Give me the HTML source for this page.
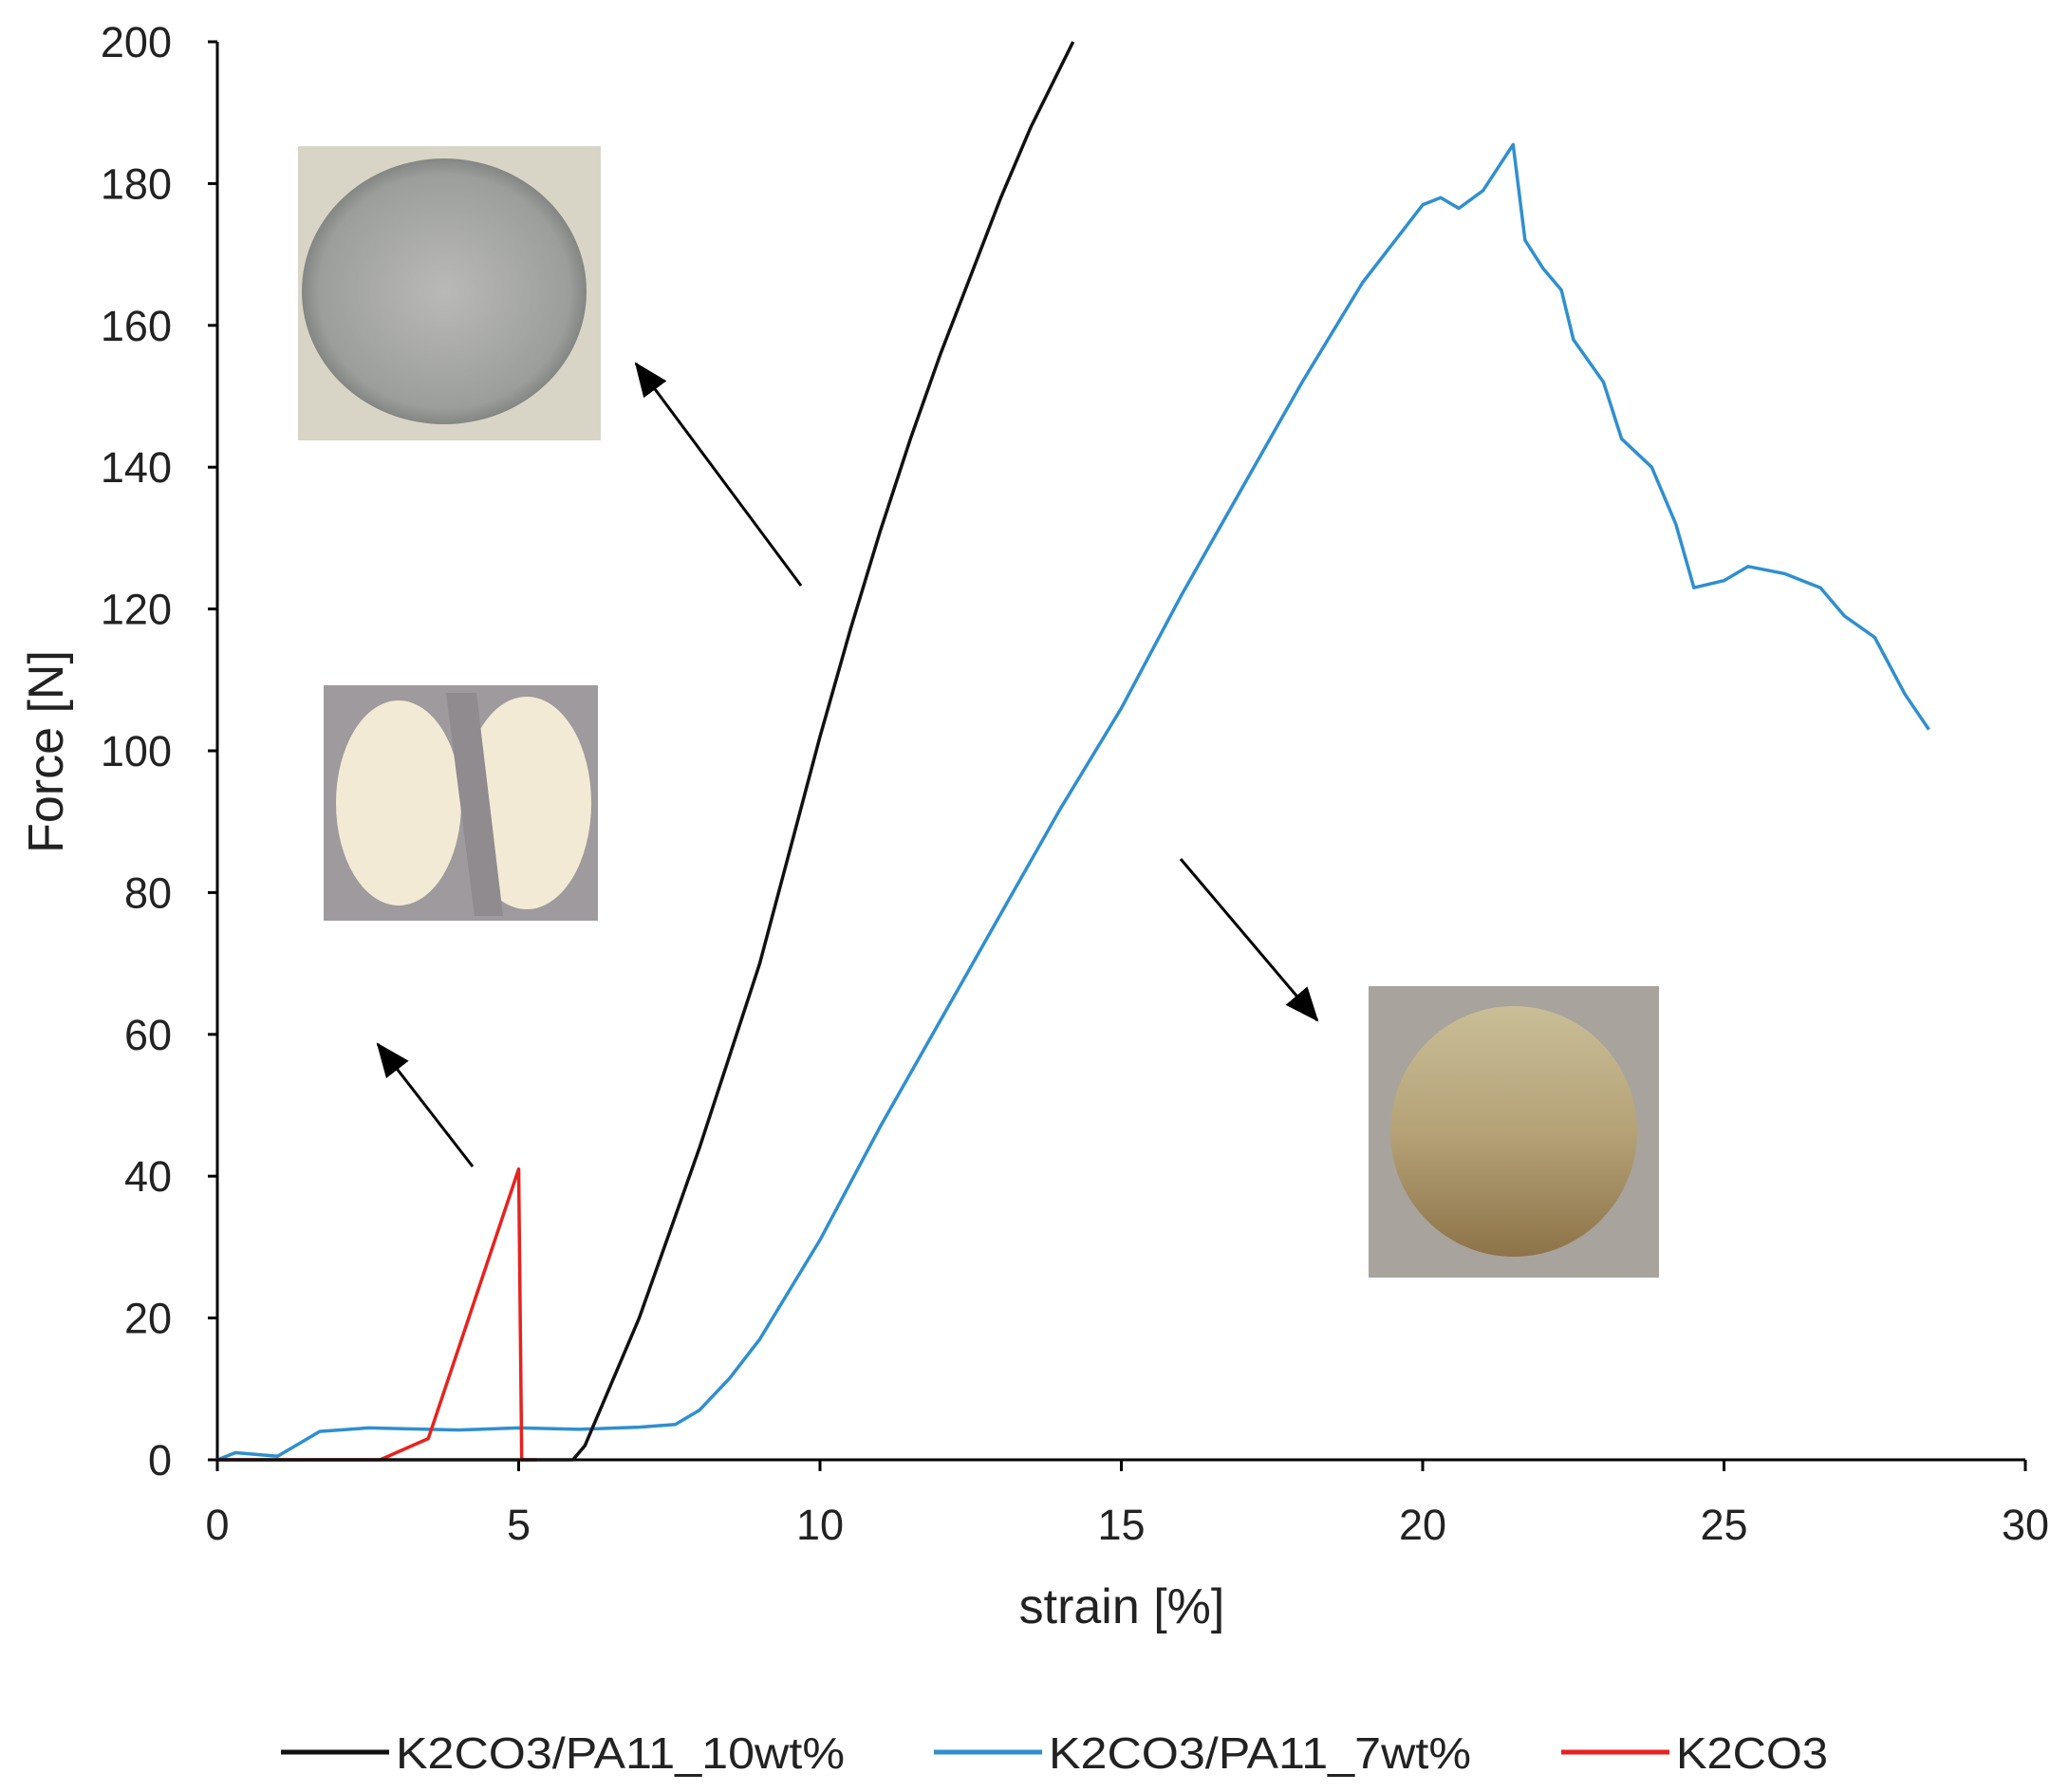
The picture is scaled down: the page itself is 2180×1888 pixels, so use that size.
<!DOCTYPE html>
<html><head><meta charset="utf-8"><style>
html,body{margin:0;padding:0;background:#fff;}
svg{display:block;font-family:"Liberation Sans",sans-serif;}
</style></head><body>
<svg id="chart" width="2180" height="1888" viewBox="0 0 2180 1888" xmlns="http://www.w3.org/2000/svg">
<defs>
<radialGradient id="gSilver" cx="50%" cy="50%" r="55%"><stop offset="0" stop-color="#b9bab8"/><stop offset="0.8" stop-color="#9c9e9c"/><stop offset="1" stop-color="#6f726f"/></radialGradient>
<linearGradient id="gGold" x1="0" y1="0" x2="0" y2="1"><stop offset="0" stop-color="#c9be97"/><stop offset="0.5" stop-color="#b5a277"/><stop offset="1" stop-color="#8d7348"/></linearGradient>
<marker id="ah" markerWidth="36" markerHeight="30" refX="34" refY="15" orient="auto" markerUnits="userSpaceOnUse" viewBox="0 0 36 30"><path d="M0,0 L36,15 L0,30 z" fill="#000"/></marker>
</defs>
<g id="photos">
<g>
<rect x="314" y="154" width="319" height="310" fill="#d9d5c6"/>
<ellipse cx="468" cy="307" rx="150" ry="140" fill="url(#gSilver)"/>
</g>
<g>
<rect x="341" y="722" width="289" height="248" fill="#9e9a9d"/>
<ellipse cx="420" cy="846" rx="66" ry="108" fill="#f3ead6"/>
<ellipse cx="555" cy="846" rx="68" ry="112" fill="#f3ead6"/>
<path d="M470 730 L502 730 L530 965 L500 965 Z" fill="#8f8b8e"/>
</g>
<g>
<rect x="1442" y="1039" width="306" height="307" fill="#a8a39c"/>
<ellipse cx="1595" cy="1192" rx="130" ry="132" fill="url(#gGold)"/>
</g>
</g>
<g id="arrows" stroke="#000" stroke-width="3" fill="none">
<line x1="844" y1="617" x2="670" y2="383" marker-end="url(#ah)"/>
<line x1="498" y1="1229" x2="398" y2="1100" marker-end="url(#ah)"/>
<line x1="1244" y1="905" x2="1388" y2="1075" marker-end="url(#ah)"/>
</g>
<g id="axes"></g>
<g id="series"></g>
<g id="legend"></g>
</svg>
<script>
const xTicks = [0,5,10,15,20,25,30];
const yTicks = [0,20,40,60,80,100,120,140,160,180,200];
const blackX = [0,5.9,6.1,6.4,7,7.5,8,8.5,9,9.5,10,10.5,11,11.5,12,12.5,13,13.5,14.2];
const blackY = [0,0,2,8,20,32,44,57,70,86,102,117,131,144,156,167,178,188,200];
const blueX = [0,0.3,1,1.7,2.5,4,5,6,7,7.6,8,8.5,9,10,11,12,13,14,15,16,17,18,19,20,20.3,20.6,21,21.5,21.7,22,22.3,22.5,23,23.3,23.8,24.2,24.5,25,25.4,26,26.6,27,27.5,28,28.4];
const blueY = [0,1,0.5,4,4.5,4.2,4.5,4.3,4.6,5,7,11.5,17,31,47,62,77,92,106,122,137,152,166,177,178,176.5,179,185.5,172,168,165,158,152,144,140,132,123,124,126,125,123,119,116,108,103];
const redX = [0,2.7,3.5,5,5.05,5.3];
const redY = [0,0,3,41,0,0];
const legendLabels = ["K2CO3/PA11_10wt%","K2CO3/PA11_7wt%","K2CO3"];

const NS="http://www.w3.org/2000/svg";
const X0=229,X1=2134,Y0=1538,Y1=44;
const sx=v=>X0+(v-0)/(30-0)*(X1-X0);
const sy=v=>Y0-(v-0)/(200-0)*(Y0-Y1);
function mk(tag,attrs,parent){const e=document.createElementNS(NS,tag);for(const k in attrs)e.setAttribute(k,attrs[k]);parent.appendChild(e);return e;}
const axes=document.getElementById('axes');
let e;
e=mk('line',{x1:X0,y1:Y1,x2:X0,y2:Y0,stroke:'#000','stroke-width':3},axes);


e=mk('line',{x1:X0,y1:Y0,x2:X1,y2:Y0,stroke:'#000','stroke-width':3},axes);


yTicks.forEach(v=>{
 mk('line',{x1:X0-10,y1:sy(v),x2:X0,y2:sy(v),stroke:'#000','stroke-width':3},axes);
 const t=mk('text',{x:181,y:sy(v)+16,'text-anchor':'end','font-size':45,fill:'#222'},axes);
 t.textContent=v;
 
 
});
xTicks.forEach(v=>{
 mk('line',{x1:sx(v),y1:Y0,x2:sx(v),y2:Y0+12,stroke:'#000','stroke-width':3},axes);
 const t=mk('text',{x:sx(v),y:1622,'text-anchor':'middle','font-size':45,fill:'#222'},axes);
 t.textContent=v;
 
 
});
e=mk('text',{x:1182,y:1710,'text-anchor':'middle','font-size':52,fill:'#222'},axes);
e.textContent='strain [%]';


e=mk('text',{x:0,y:0,'text-anchor':'middle','font-size':52,fill:'#222',transform:'translate(66,792) rotate(-90)'},axes);
e.textContent='Force [N]';



const series=document.getElementById('series');
function line(xs,ys,color,name,w){
 const d=xs.map((x,i)=>(i?'L':'M')+sx(x).toFixed(1)+','+sy(ys[i]).toFixed(1)).join(' ');
 const p=mk('path',{d:d,fill:'none',stroke:color,'stroke-width':w,'stroke-linejoin':'round'},series);
 
 
}
line(blueX,blueY,'#2f8fd0','series-pa11-7wt',3.5);
line(redX,redY,'#e8221e','series-k2co3',3.5);
line(blackX,blackY,'#111','series-pa11-10wt',3.5);

const legend=document.getElementById('legend');
const lx=[296,984,1645],colors=['#111','#2f8fd0','#e8221e'];
legendLabels.forEach((lab,i)=>{
 const g=mk('g',{},legend);
 
 
 mk('line',{x1:lx[i],y1:1846,x2:lx[i]+114,y2:1846,stroke:colors[i],'stroke-width':5},g);
 const t=mk('text',{x:lx[i]+121,y:1863,'font-size':46,fill:'#222',textLength:(i==0?473:i==1?445:160),lengthAdjust:'spacingAndGlyphs'},g);
 t.textContent=lab;
});
</script>
</body></html>
